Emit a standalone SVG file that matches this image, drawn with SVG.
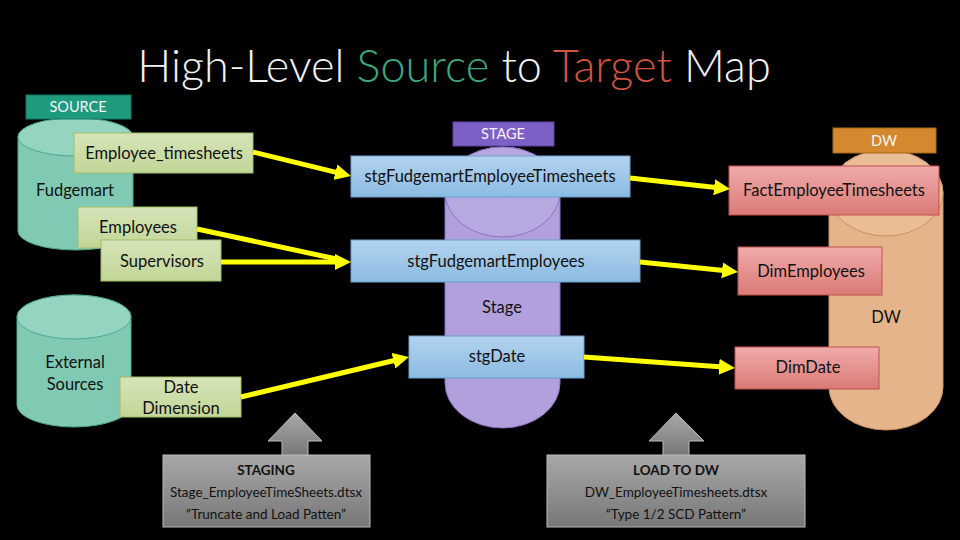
<svg xmlns="http://www.w3.org/2000/svg" width="960" height="540" viewBox="0 0 960 540">
<style>
text{font-family:Lato,"Liberation Sans",sans-serif;font-size:16.5px;fill:#111;text-anchor:middle}
.lbl{fill:#f4f4f4;font-size:14.5px}
.conn{stroke:#ffff00;stroke-width:5;fill:none}
.gbox{fill:url(#gGray);stroke:#bbb;stroke-width:1}
.gt{font-size:13.5px}
</style>
<defs>
<linearGradient id="gGreen" x1="0" y1="0" x2="0" y2="1"><stop offset="0" stop-color="#d6e4b8"/><stop offset="1" stop-color="#c2d697"/></linearGradient>
<linearGradient id="gBlue" x1="0" y1="0" x2="0" y2="1"><stop offset="0" stop-color="#b3d3ee"/><stop offset="1" stop-color="#8bbbe2"/></linearGradient>
<linearGradient id="gPink" x1="0" y1="0" x2="0" y2="1"><stop offset="0" stop-color="#f0abab"/><stop offset="1" stop-color="#da7a76"/></linearGradient>
<linearGradient id="gGray" x1="0" y1="0" x2="0" y2="1"><stop offset="0" stop-color="#a8a8a8"/><stop offset="1" stop-color="#777"/></linearGradient>
<marker id="ah" viewBox="0 0 16 16" refX="4" refY="8" markerWidth="16" markerHeight="16" markerUnits="userSpaceOnUse" orient="auto"><path d="M0,0 L16,8 L0,16 Z" fill="#ffff00"/></marker>
</defs>
<rect width="960" height="540" fill="#000"/>
<text x="454" y="82" style="font-size:45px;font-weight:300;fill:#f2f2f2">High-Level <tspan fill="#3fa77c">Source</tspan> to <tspan fill="#d4533e">Target</tspan> Map</text>

<g id="fudgemart">
<path d="M18,137 L18,231 A57.5,19 0 0 0 133,231 L133,137 A57.5,19 0 0 0 18,137 Z" fill="#80cab4" stroke="#4ea88e"/>
<ellipse cx="75.5" cy="137" rx="57.5" ry="19" fill="#96d4c2" stroke="#4ea88e"/>
<text x="75" y="196">Fudgemart</text>
</g>
<g id="source-label"><rect x="26" y="95" width="105" height="24" fill="#1e9a7e" stroke="#147a62"/><text class="lbl" x="78" y="112">SOURCE</text></g>

<g id="external">
<path d="M17,317 L17,405 A57,22 0 0 0 131,405 L131,317 A57,22 0 0 0 17,317 Z" fill="#80cab4" stroke="#4ea88e"/>
<ellipse cx="74" cy="317" rx="57" ry="22" fill="#96d4c2" stroke="#4ea88e"/>
<text x="75" y="368">External</text><text x="75" y="390">Sources</text>
</g>

<g id="stage-cyl">
<path d="M445,192 L445,383 A57.5,45 0 0 0 560,383 L560,192 A57.5,45 0 0 0 445,192 Z" fill="#b1a0dc" stroke="#8a72c8"/>
<ellipse cx="502.5" cy="192" rx="57.5" ry="45" fill="#b8a8e0" stroke="#8a72c8"/>
<text x="502" y="313">Stage</text>
</g>
<g id="stage-label"><rect x="453" y="122" width="101" height="24" fill="#7e5fc6" stroke="#5e44a4"/><text class="lbl" x="503" y="139">STAGE</text></g>

<g id="dw-cyl">
<path d="M829,193 L829,387 A57,43 0 0 0 943,387 L943,193 A57,43 0 0 0 829,193 Z" fill="#e6b48a" stroke="#cc9060"/>
<ellipse cx="886" cy="193" rx="57" ry="43" fill="#ebbd96" stroke="#cc9060"/>
<text x="886" y="323">DW</text>
</g>
<g id="dw-label"><rect x="833" y="128" width="103" height="25" fill="#d4892f" stroke="#a86818"/><text class="lbl" x="884" y="146">DW</text></g>

<g id="employee-timesheets"><rect x="74" y="133" width="179" height="40" fill="url(#gGreen)" stroke="#a0bc68"/><text x="164" y="159">Employee_timesheets</text></g>
<g id="employees"><rect x="78" y="207" width="119" height="41" fill="url(#gGreen)" stroke="#a0bc68"/><text x="138" y="233">Employees</text></g>
<g id="supervisors"><rect x="101" y="240" width="120" height="41" fill="url(#gGreen)" stroke="#a0bc68"/><text x="162" y="267">Supervisors</text></g>
<g id="date-dimension"><rect x="120" y="377" width="121" height="40" fill="url(#gGreen)" stroke="#a0bc68"/><text x="181" y="393">Date</text><text x="181" y="414">Dimension</text></g>

<g id="stg-timesheets"><rect x="351" y="156" width="279" height="41" fill="url(#gBlue)" stroke="#6a9fd0"/><text x="490" y="182">stgFudgemartEmployeeTimesheets</text></g>
<g id="stg-employees"><rect x="351" y="240" width="289" height="42" fill="url(#gBlue)" stroke="#6a9fd0"/><text x="496" y="267">stgFudgemartEmployees</text></g>
<g id="stg-date"><rect x="409" y="336" width="175" height="42" fill="url(#gBlue)" stroke="#6a9fd0"/><text x="497" y="362">stgDate</text></g>

<g id="fact-timesheets"><rect x="729" y="166" width="210" height="49" fill="url(#gPink)" stroke="#c0504d"/><text x="834" y="196">FactEmployeeTimesheets</text></g>
<g id="dim-employees"><rect x="738" y="247" width="144" height="48" fill="url(#gPink)" stroke="#c0504d"/><text x="811" y="277">DimEmployees</text></g>
<g id="dim-date"><rect x="735" y="347" width="144" height="42" fill="url(#gPink)" stroke="#c0504d"/><text x="808" y="373">DimDate</text></g>

<g id="connectors">
<path class="conn" d="M253,152 L339.3,173.1" marker-end="url(#ah)"/>
<path class="conn" d="M197,229 L339,259.5"/>
<path class="conn" d="M221,262 L339,262" marker-end="url(#ah)"/>
<path class="conn" d="M241,397 L397.3,359.8" marker-end="url(#ah)"/>
<path class="conn" d="M630,178 L718.1,187.7" marker-end="url(#ah)"/>
<path class="conn" d="M640,262 L726.1,270.8" marker-end="url(#ah)"/>
<path class="conn" d="M584,357 L723,367.1" marker-end="url(#ah)"/>
</g>

<g id="staging">
<polygon class="gbox" points="295,413 322,441 308,441 308,456 282,456 282,441 268,441"/>
<rect class="gbox" x="163" y="455" width="207" height="72"/>
<text class="gt" x="266" y="475" style="font-weight:bold">STAGING</text>
<text class="gt" x="266" y="497">Stage_EmployeeTimeSheets.dtsx</text>
<text class="gt" x="266" y="519">“Truncate and Load Patten”</text>
</g>
<g id="load-dw">
<polygon class="gbox" points="676,413 704,441 689,441 689,456 663,456 663,441 649,441"/>
<rect class="gbox" x="547" y="455" width="258" height="72"/>
<text class="gt" x="676" y="475" style="font-weight:bold">LOAD TO DW</text>
<text class="gt" x="676" y="497">DW_EmployeeTimesheets.dtsx</text>
<text class="gt" x="676" y="519">“Type 1/2 SCD Pattern”</text>
</g>
</svg>
